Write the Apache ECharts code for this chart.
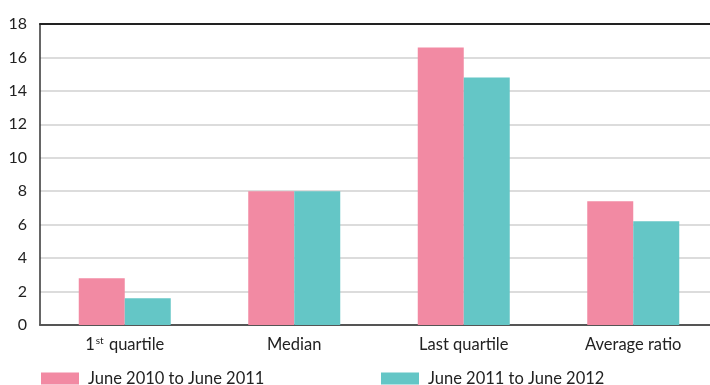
<!DOCTYPE html>
<html>
<head>
<meta charset="utf-8">
<script src="https://cdn.jsdelivr.net/npm/echarts@6/dist/echarts.min.js"></script>
<style>
  html, body { margin: 0; padding: 0; background: #fff; overflow: hidden; }
  /* the plot runs slightly past the right edge of the page */
  #chart { width: 718px; height: 385px; }
</style>
</head>
<body>
<div id="chart"></div>
<script>
// Distribution measures compared across two yearly periods
const categories = ['1st quartile', 'Median', 'Last quartile', 'Average ratio'];
const period1Name = 'June 2010 to June 2011';
const period2Name = 'June 2011 to June 2012';
const period1Values = [2.8, 8.0, 16.6, 7.4];
const period2Values = [1.6, 8.0, 14.8, 6.2];
const yTicks = { min: 0, max: 18, interval: 2 };

const FONT = 'Lato, "Open Sans", sans-serif';
const PINK = '#F28AA3';
const TEAL = '#64C6C6';

const chart = echarts.init(document.getElementById('chart'), null, { renderer: 'canvas' });

chart.setOption({
  animation: false,
  grid: { left: 40, right: 0, top: 24, bottom: 60, containLabel: false },
  legend: [
    {
      data: [period1Name], left: 36, top: 365,
      itemWidth: 38, itemHeight: 12, itemGap: 0,
      icon: 'rect',
      textStyle: { fontFamily: FONT, fontSize: 16.5, color: '#222', padding: [0, 0, 0, 4] }
    },
    {
      data: [period2Name], left: 376, top: 365,
      itemWidth: 38, itemHeight: 12, itemGap: 0,
      icon: 'rect',
      textStyle: { fontFamily: FONT, fontSize: 16.5, color: '#222', padding: [0, 0, 0, 4] }
    }
  ],
  xAxis: [
    {
      type: 'category',
      data: categories,
      axisLine: { show: true, lineStyle: { color: '#555', width: 2 } },
      axisTick: { show: false },
      axisLabel: {
        margin: 11,
        fontFamily: FONT, fontSize: 16.5, color: '#222',
        formatter: function (v) {
          if (v === '1st quartile') return '1{sup|st} quartile';
          return v;
        },
        rich: {
          sup: { fontFamily: FONT, fontSize: 10, color: '#222', verticalAlign: 'top', padding: [0, 1, 8, 1] }
        }
      }
    },
    {
      // Frame line along the top of the plot
      type: 'category',
      position: 'top',
      data: categories,
      axisLine: { show: true, lineStyle: { color: '#222', width: 2 } },
      axisTick: { show: false },
      axisLabel: { show: false }
    }
  ],
  yAxis: {
    type: 'value',
    min: yTicks.min, max: yTicks.max, interval: yTicks.interval,
    axisLine: { show: true, lineStyle: { color: '#333', width: 1.5 } },
    axisTick: { show: false },
    splitLine: { show: true, lineStyle: { color: '#d0d0d0', width: 1.5 } },
    axisLabel: { margin: 13, fontFamily: FONT, fontSize: 16, color: '#222' }
  },
  series: [
    {
      name: period1Name, type: 'bar', data: period1Values,
      barWidth: 46, barGap: '0%',
      itemStyle: { color: PINK }
    },
    {
      name: period2Name, type: 'bar', data: period2Values,
      barWidth: 46, barGap: '0%',
      itemStyle: { color: TEAL }
    }
  ]
});
</script>
</body>
</html>
